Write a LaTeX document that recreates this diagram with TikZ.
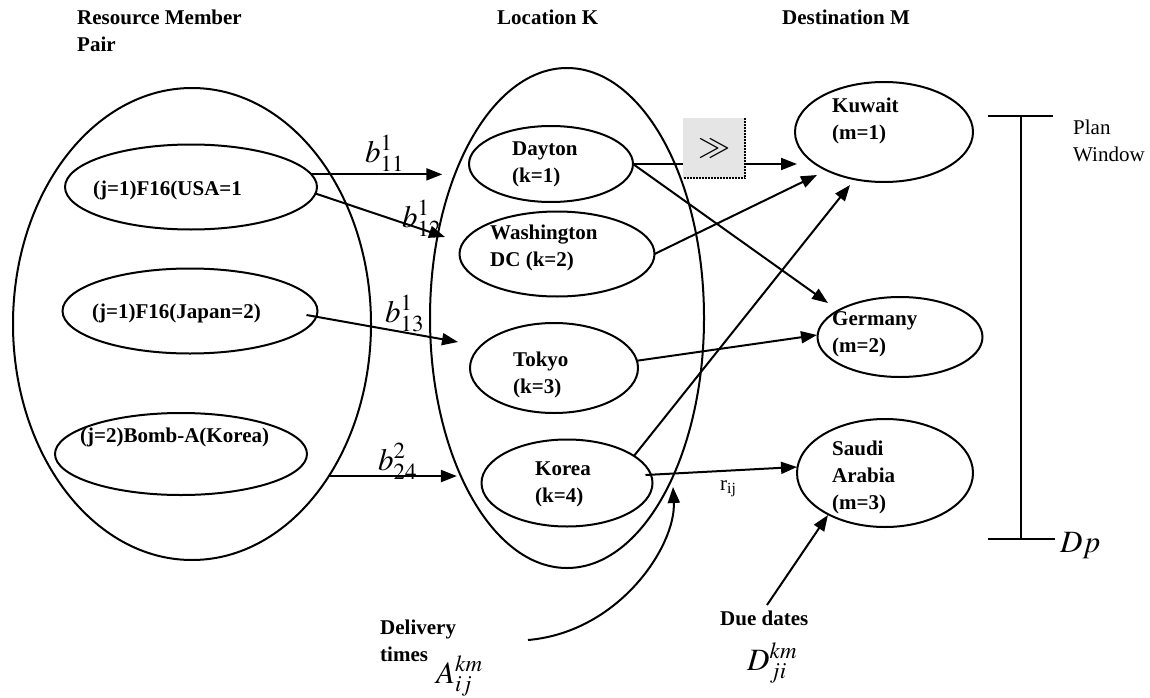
\documentclass[tikz,border=0pt]{standalone}
\usepackage{mathptmx}
\usepackage{fontspec}
\setmainfont{Liberation Serif}
\usetikzlibrary{shapes.geometric,arrows.meta}
\newcommand{\mlines}[1]{\begin{tabular}[t]{@{}l@{}}#1\end{tabular}}
\begin{document}
\begin{tikzpicture}[x=1pt,y=-1pt,
  ell/.style={draw, ellipse, line width=2pt, inner sep=0pt, outer sep=0pt},
  lbl/.style={font=\fontsize{21}{27}\selectfont\bfseries, inner sep=0pt, anchor=base west},
  reg/.style={font=\fontsize{21}{26}\selectfont, inner sep=0pt, anchor=base west},
  mth/.style={font=\fontsize{31}{36}\selectfont, inner sep=0pt, anchor=base west},
  arr/.style={line width=2pt, -{Triangle[length=16pt,width=12pt]}},
  ln/.style={line width=2pt}]
\useasboundingbox (0,0) rectangle (1150,698);

% headers
\node[lbl] (h1) at (77,25) {\mlines{Resource Member\\Pair}};
\node[lbl] (h2) at (497,25) {Location K};
\node[lbl] (h3) at (782,25) {Destination M};

% big ellipses
\node[ell, minimum width=358pt, minimum height=472pt] (resP) at (192,324) {};
\node[ell, minimum width=274pt, minimum height=500pt] (locK) at (567,318) {};

% left inner
\node[ell, minimum width=252pt, minimum height=85pt] (usa) at (191,187) {};
\node[ell, minimum width=255pt, minimum height=85pt] (jap) at (190,311) {};
\node[ell, minimum width=252pt, minimum height=82pt] (bomb) at (181,454) {};
\node[lbl] (tusa) at (93,195) {(j=1)F16(USA=1};
\node[lbl] (tjap) at (92,318) {(j=1)F16(Japan=2)};
\node[lbl] (tbomb) at (80,442) {(j=2)Bomb-A(Korea)};

% middle inner
\node[ell, minimum width=164pt, minimum height=76pt] (day) at (551,164) {};
\node[ell, minimum width=195pt, minimum height=85pt] (was) at (557,254) {};
\node[ell, minimum width=168pt, minimum height=90pt] (tok) at (554,368) {};
\node[ell, minimum width=171pt, minimum height=87pt] (kor) at (567,483) {};
\node[lbl] (tday) at (512,155) {\mlines{Dayton\\(k=1)}};
\node[lbl] (twas) at (490,239) {\mlines{Washington\\DC (k=2)}};
\node[lbl] (ttok) at (513,366) {\mlines{Tokyo\\(k=3)}};
\node[lbl] (tkor) at (535,475) {\mlines{Korea\\(k=4)}};

% right
\node[ell, minimum width=178pt, minimum height=100pt] (kuw) at (884,132) {};
\node[ell, minimum width=165pt, minimum height=80pt] (ger) at (900,337) {};
\node[ell, minimum width=176pt, minimum height=108pt] (sau) at (885,473) {};
\node[lbl] (tkuw) at (832,113) {\mlines{Kuwait\\(m=1)}};
\node[lbl] (tger) at (832,325) {\mlines{Germany\\(m=2)}};
\node[lbl] (tsau) at (832,455) {\mlines{Saudi\\Arabia\\(m=3)}};

% box
\node[fill=black!10, minimum width=62pt, minimum height=60pt, inner sep=0pt,
      font=\fontsize{32}{32}\selectfont] (box) at (714,148) {$\gg$};
\draw[line width=2pt, densely dotted] (box.north east) -- (box.south east) -- (box.south west);

% tip coordinates
\coordinate (k1) at (797,164);
\coordinate (k2) at (817,175);
\coordinate (k3) at (850,185);
\coordinate (g1) at (828,303);
\coordinate (g2) at (817,335);
\coordinate (s1) at (797,467);
\coordinate (s2) at (828,515);
\coordinate (l12) at (445,237);
\coordinate (l13) at (458,342);
\coordinate (dstart) at (528,640);
\coordinate (dtip) at (673,487);
\coordinate (ddstart) at (767,605);

% arrows from resources
\draw[arr] (usa.6) -- ++(131,0);
\draw[arr] (usa.-3) -- (l12);
\draw[arr] ([xshift=-11pt,yshift=-4pt]jap.east) -- (l13);
\draw[arr] (resP.-48) -- ++(128,0);

% labels b
\node[mth] (b11) at (365,162) {$b^{1}_{11}$};
\node[mth] (b12) at (402,227) {$b^{1}_{12}$};
\node[mth] (b13) at (385,322) {$b^{1}_{13}$};
\node[mth] (b24) at (378,470) {$b^{2}_{24}$};

% arrows to destinations
\draw[ln] (day.east) -- (day.east -| box.west);
\draw[arr] (day.east -| box.east) -- (k1);
\draw[arr] (day.east) -- (g1);
\draw[arr] (was.east) -- (k2);
\draw[arr] (tok.5) -- (g2);
\draw[arr] (kor.22) -- (k3);
\draw[arr] ([xshift=-7pt,yshift=8pt]kor.east) -- (s1);
\node[reg, font=\fontsize{21}{24}\selectfont] (rij) at (720,490) {r\textsubscript{ij}};

% delivery times
\draw[arr] (dstart) .. controls (620,632) and (676,545) .. (dtip);
\node[lbl] (tdel) at (380,634) {\mlines{Delivery\\times}};
\node[mth] (akm) at (436,683) {$A^{km}_{ij}$};

% due dates
\draw[arr] (ddstart) -- (s2);
\node[lbl] (tdue) at (720,625) {Due dates};
\node[mth] (dkm) at (747,670) {$D^{km}_{ji}$};

% plan window
\draw[ln] (988,116) -- (1053,116);
\draw[ln] (1021,116) -- (1021,539);
\draw[ln] (988,539) -- (1055,539);
\node[reg] (tplan) at (1073,135) {\mlines{Plan\\Window}};
\node[mth] (dp) at (1060,552) {$Dp$};
\end{tikzpicture}
\end{document}
